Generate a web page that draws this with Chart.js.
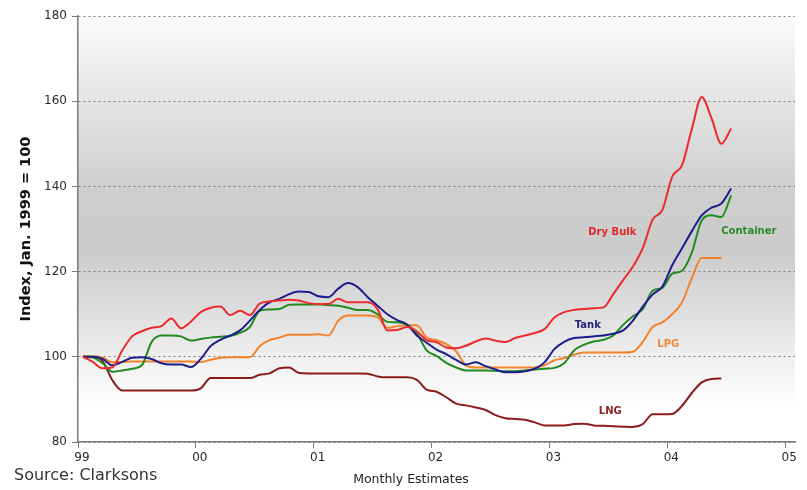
<!DOCTYPE html>
<html lang="en">
<head>
    <meta charset="UTF-8">
    <title>Fleet Index by Ship Type</title>
    <script src="https://cdn.jsdelivr.net/npm/chart.js"></script>
    <style>
        body {
            margin: 0;
            padding: 0;
            background: #ffffff;
        }
        .wrap {
            position: relative;
            width: 807px;
            height: 490px;
        }
    </style>
</head>
<body>
    <div class="wrap">
        <canvas id="indexChart"></canvas>
    </div>

    <script>
        // Year tick labels, one every 12 months from Jan 1999
        const yearLabels = ['99', '00', '01', '02', '03', '04', '05'];
        const yearTicks = [0, 12, 24, 36, 48, 60, 72];

        // Monthly estimates, plotted mid-month (months since Jan 1999)
        const months = Array.from({length: 67}, (_, i) => i + 0.5);

        const dryBulk = [100, 98.8, 97.3, 97.5, 101.5, 104.8, 106, 106.8, 107.2, 109,
            106.7, 108.3, 110.5, 111.5, 111.8, 109.8, 110.8, 109.8, 112.5, 113,
            113.2, 113.4, 113.2, 112.6, 112.4, 112.4, 113.6, 112.8, 112.8, 112.8,
            111.2, 106.2, 106.3, 107, 106, 103.9, 103.4, 102.2, 102, 102.6,
            103.6, 104.3, 103.8, 103.5, 104.4, 105, 105.6, 106.5, 109.2, 110.5,
            111, 111.2, 111.4, 111.6, 114.7, 118, 121.2, 125.5, 132.2, 134.5,
            142.3, 145, 153.5, 161, 156, 150, 153.6];

        const tank = [100, 100, 99.5, 98, 98.8, 99.8, 99.9, 99.5, 98.5, 98.2,
            98.2, 97.6, 99.5, 102.5, 104, 105, 106.2, 108.5, 111, 112.8,
            113.6, 114.7, 115.3, 115.2, 114.2, 114, 116, 117.3, 116.3, 114,
            112, 110, 108.6, 107.6, 105, 103.3, 101.7, 100.6, 99.3, 98.2,
            98.7, 97.8, 97, 96.4, 96.4, 96.6, 97.2, 98.7, 101.8, 103.5,
            104.4, 104.6, 104.8, 105, 105.4, 106.2, 108.5, 111.8, 114.6, 116.5,
            121.5, 125.5, 129.5, 133.2, 135, 136, 139.5];

        const container = [100, 99.8, 98.5, 96.5, 96.8, 97.2, 98, 103.5, 105, 105,
            104.8, 103.8, 104.2, 104.5, 104.7, 104.9, 105.6, 107, 110.8, 111.1,
            111.2, 112.2, 112.3, 112.3, 112.3, 112.1, 112, 111.5, 111, 111,
            110, 108.2, 108.1, 107.5, 105.5, 101.5, 100.2, 98.6, 97.5, 96.8,
            96.8, 96.8, 96.7, 96.6, 96.6, 96.8, 97, 97.2, 97.4, 98.5,
            101.5, 102.8, 103.6, 104, 105, 107.5, 109.5, 111.2, 115.5, 116.2,
            119.5, 120.2, 124.5, 132, 133.2, 132.8, 137.9];

        const lpg = [100.1, 100.1, 99.8, 98.7, 98.8, 98.9, 98.9, 98.9, 98.9, 98.9,
            98.9, 98.9, 98.8, 99.3, 99.8, 99.9, 99.9, 99.9, 102.5, 103.9,
            104.5, 105.2, 105.2, 105.2, 105.3, 105, 108.5, 109.7, 109.7, 109.7,
            109.3, 106.8, 107.2, 107.4, 107.4, 104.5, 103.9, 103, 101.3, 98,
            97.5, 97.5, 97.5, 97.5, 97.5, 97.5, 97.5, 98, 99.2, 99.7,
            100.5, 101, 101, 101, 101, 101, 101.2, 103.5, 107, 108.1,
            110, 112.8, 118.5, 123.2, 123.2, 123.2];

        const lng = [100, 100, 99, 94.5, 92.1, 92.1, 92.1, 92.1, 92.1, 92.1,
            92.1, 92.1, 92.6, 95, 95, 95, 95, 95, 95.8, 96.1,
            97.3, 97.5, 96.2, 96.1, 96.1, 96.1, 96.1, 96.1, 96.1, 96,
            95.4, 95.2, 95.2, 95.2, 94.6, 92.3, 91.8, 90.5, 89, 88.6,
            88.1, 87.5, 86.3, 85.6, 85.4, 85.2, 84.6, 83.9, 83.9, 83.9,
            84.2, 84.3, 83.9, 83.8, 83.7, 83.6, 83.5, 84.2, 86.5, 86.5,
            86.6, 88.5, 91.5, 94, 94.8, 94.9];

        // In-chart series labels: [text, month, index value, colour]
        const seriesLabels = [
            ['Dry Bulk', 54.4, 129.2, '#e2262b'],
            ['Container', 68.3, 129.5, '#2b8a2b'],
            ['Tank', 51.9, 107.4, '#23237e'],
            ['LPG', 60.1, 102.9, '#f0873a'],
            ['LNG', 54.2, 87.2, '#8a2222']
        ];

        function toPoints(values) {
            return values.map((v, i) => ({x: months[i], y: v}));
        }

        // Grey band behind the plot area
        const plotBackground = {
            id: 'plotBackground',
            beforeDraw(chart) {
                const {ctx, chartArea: a} = chart;
                const g = ctx.createLinearGradient(0, a.top, 0, a.bottom);
                g.addColorStop(0, '#fbfbfb');
                g.addColorStop(0.2, '#e4e4e4');
                g.addColorStop(0.42, '#cecece');
                g.addColorStop(0.55, '#cbcbcb');
                g.addColorStop(0.68, '#dcdcdc');
                g.addColorStop(0.8, '#efefef');
                g.addColorStop(0.92, '#ffffff');
                g.addColorStop(1, '#ffffff');
                ctx.save();
                ctx.fillStyle = g;
                ctx.fillRect(a.left, a.top, a.right - a.left, a.bottom - a.top);
                ctx.restore();
            }
        };

        // Series names, axis caption and source line
        const chartText = {
            id: 'chartText',
            afterDraw(chart) {
                const ctx = chart.ctx;
                const xs = chart.scales.x, ys = chart.scales.y;
                ctx.save();
                ctx.textAlign = 'center';
                ctx.textBaseline = 'middle';
                ctx.font = 'bold 10px "DejaVu Sans", Verdana, sans-serif';
                seriesLabels.forEach(([text, m, v, color]) => {
                    ctx.fillStyle = color;
                    ctx.fillText(text, xs.getPixelForValue(m), ys.getPixelForValue(v));
                });
                ctx.fillStyle = '#222';
                ctx.font = '12.5px "DejaVu Sans", Tahoma, sans-serif';
                ctx.fillText('Monthly Estimates', 411, 480);
                ctx.textAlign = 'left';
                ctx.font = '16px "DejaVu Sans", Verdana, sans-serif';
                ctx.fillStyle = '#333';
                ctx.fillText('Source: Clarksons', 14, 476);
                ctx.restore();
            }
        };

        const lineStyle = {
            pointRadius: 0,
            borderWidth: 2,
            fill: false,
            cubicInterpolationMode: 'monotone'
        };

        const ctxIndex = document.getElementById('indexChart').getContext('2d');
        const indexChart = new Chart(ctxIndex, {
            type: 'line',
            data: {
                datasets: [
                    Object.assign({label: 'Dry Bulk', data: toPoints(dryBulk), borderColor: '#ec2b2e'}, lineStyle),
                    Object.assign({label: 'Tank', data: toPoints(tank), borderColor: '#1d1d8c'}, lineStyle),
                    Object.assign({label: 'Container', data: toPoints(container), borderColor: '#218b21'}, lineStyle),
                    Object.assign({label: 'LPG', data: toPoints(lpg), borderColor: '#f4822a'}, lineStyle),
                    Object.assign({label: 'LNG', data: toPoints(lng), borderColor: '#8b1c1c'}, lineStyle)
                ]
            },
            options: {
                responsive: true,
                maintainAspectRatio: false,
                animation: false,
                layout: {
                    padding: {top: 16, right: 12, bottom: 0, left: 0}
                },
                plugins: {
                    legend: {display: false},
                    tooltip: {enabled: false}
                },
                scales: {
                    x: {
                        type: 'linear',
                        min: 0,
                        max: 73,
                        afterFit(scale) { scale.height = 48; },
                        afterBuildTicks(scale) {
                            scale.ticks = yearTicks.map(v => ({value: v}));
                        },
                        border: {color: '#7a7a7a', width: 1.5},
                        grid: {
                            drawOnChartArea: false,
                            drawTicks: true,
                            tickLength: 6,
                            tickColor: '#7a7a7a'
                        },
                        ticks: {
                            autoSkip: false,
                            maxRotation: 0,
                            labelOffset: 4,
                            padding: 3,
                            color: '#2a2a2a',
                            font: {family: '"DejaVu Sans", Verdana, sans-serif', size: 12},
                            callback: (value) => yearLabels[yearTicks.indexOf(value)]
                        }
                    },
                    y: {
                        min: 80,
                        max: 180,
                        afterFit(scale) { scale.width = 78; },
                        // in v4 border.dash styles the grid lines
                        border: {color: '#7a7a7a', width: 1.5, dash: [2, 3]},
                        grid: {
                            color: '#7f7f7f',
                            lineWidth: 1,
                            tickLength: 6,
                            tickColor: '#7a7a7a'
                        },
                        ticks: {
                            stepSize: 20,
                            padding: 5,
                            color: '#2a2a2a',
                            font: {family: '"DejaVu Sans", Verdana, sans-serif', size: 12}
                        },
                        title: {
                            display: true,
                            text: 'Index, Jan. 1999 = 100',
                            color: '#111',
                            padding: {top: 18, bottom: 0},
                            font: {family: '"DejaVu Sans", Verdana, sans-serif', size: 14.5, weight: 'bold'}
                        }
                    }
                }
            },
            plugins: [plotBackground, chartText]
        });
    </script>
</body>
</html>
